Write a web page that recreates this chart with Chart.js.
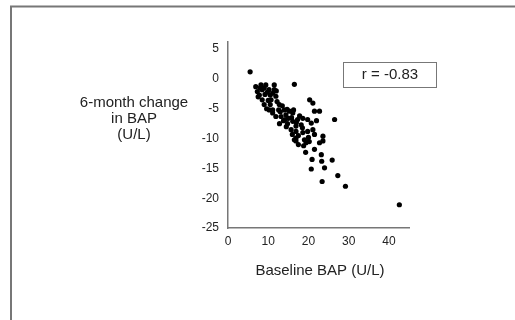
<!DOCTYPE html>
<html>
<head>
<meta charset="utf-8">
<script src="https://cdn.jsdelivr.net/npm/chart.js@4/dist/chart.umd.min.js"></script>
<style>
html,body{margin:0;padding:0;background:#fff;}
canvas{display:block;}
</style>
</head>
<body>
<canvas id="c" width="515" height="320"></canvas>
<script>
const baselineBAP = [5.5,6.9,8.2,9.4,11.5,7.3,8.5,10.2,11.5,7.8,9.2,10.5,8.5,10.0,11.1,11.9,10.7,9.0,10.5,12.75,9.6,11.1,12.6,14.0,14.7,16.3,16.1,15.25,10.25,11.1,11.9,13.2,14.4,16.5,20.3,21.1,21.5,22.75,26.5,16.1,17.3,18.6,19.8,20.7,18.2,16.9,15.7,16.9,18.6,19.8,21.1,21.5,23.6,13.8,14.8,12.8,15.0,16.9,16.5,16.9,17.5,19.4,20.2,22.75,23.6,19.3,23.2,20.9,23.3,25.9,20.7,24.0,27.3,23.4,29.2,42.6,8.0,9.8,13.5,12.2,17.8,18.5,17.5,20.0,14.5,13.0,15.8,18.8,21.5,9.0,7.5,12.0,14.2,16.0,19.0,22.0,17.0];
const changeBAP = [1.2,-1.3,-1.0,-1.0,-1.0,-2.1,-1.8,-1.8,-1.8,-2.7,-2.6,-2.7,-3.5,-3.6,-2.4,-2.9,-3.5,-4.3,-4.3,-4.3,-5.0,-5.2,-5.2,-5.2,-5.1,-5.2,-5.7,-5.4,-5.2,-5.7,-6.3,-6.3,-6.0,-0.9,-3.5,-4.05,-5.4,-5.4,-6.8,-7.1,-6.8,-6.6,-6.8,-7.4,-7.7,-7.9,-8.5,-8.8,-9.0,-8.8,-8.5,-9.3,-9.6,-7.0,-7.5,-7.5,-6.6,-9.9,-10.2,-10.4,-11.0,-10.7,-10.5,-10.7,-10.4,-12.3,-12.7,-13.5,-13.8,-13.6,-15.1,-14.9,-16.2,-17.2,-18.0,-21.1,-1.5,-2.2,-4.5,-3.8,-6.2,-8.2,-9.5,-9.8,-8.0,-5.5,-6.5,-11.2,-11.8,-1.5,-3.0,-2.0,-6.8,-9.3,-10.2,-7.0,-7.3];
const xTicks = [0,10,20,30,40];
const yTicks = [5,0,-5,-10,-15,-20,-25];
const yTitleLines = ["6-month change","in BAP","(U/L)"];
const xTitle = "Baseline BAP (U/L)";
const rLabel = "r = -0.83";

const points = baselineBAP.map((x,i)=>({x:x,y:changeBAP[i]}));
const FONT = "'Liberation Sans', Arial, sans-serif";

const decor = {
  id:'decor',
  afterDraw(chart){
    const ctx = chart.ctx;
    ctx.save();
    // frame
    ctx.strokeStyle = '#777';
    ctx.lineWidth = 2;
    ctx.beginPath();
    ctx.moveTo(11,320); ctx.lineTo(11,6.5); ctx.lineTo(515,6.5);
    ctx.stroke();
    // y title
    ctx.fillStyle = '#222';
    ctx.font = '15px ' + FONT;
    ctx.textAlign = 'center';
    ctx.textBaseline = 'middle';
    yTitleLines.forEach((t,i)=>ctx.fillText(t,134,103+i*16));
    // x title
    ctx.fillText(xTitle,320,271);
    // r box
    ctx.strokeStyle = '#777';
    ctx.lineWidth = 1;
    ctx.strokeRect(343.5,62.5,93,25);
    ctx.fillText(rLabel,390,75);
    ctx.restore();
  }
};

new Chart(document.getElementById('c'),{
  type:'scatter',
  data:{datasets:[{data:points,backgroundColor:'#000',borderColor:'#000',pointRadius:2.6,pointHoverRadius:2.6,borderWidth:0}]},
  options:{
    responsive:false,
    animation:false,
    events:[],
    layout:{padding:{left:198,top:42,right:106,bottom:72}},
    plugins:{legend:{display:false},tooltip:{enabled:false}},
    scales:{
      x:{
        type:'linear',min:0,max:45,
        afterBuildTicks(s){s.ticks=xTicks.map(v=>({value:v}));},
        afterFit(s){s.height=20;},
        grid:{display:false,drawTicks:false},
        border:{display:true,color:'#777',width:1.5},
        ticks:{padding:6,color:'#222',font:{family:FONT,size:12},maxRotation:0,autoSkip:false}
      },
      y:{
        type:'linear',min:-25,max:6.2,
        afterBuildTicks(s){s.ticks=yTicks.map(v=>({value:v}));},
        afterFit(s){s.width=30;},
        grid:{display:false,drawTicks:false},
        border:{display:true,color:'#777',width:1.5},
        ticks:{padding:9,color:'#222',font:{family:FONT,size:12},autoSkip:false}
      }
    }
  },
  plugins:[decor]
});
</script>
</body>
</html>
